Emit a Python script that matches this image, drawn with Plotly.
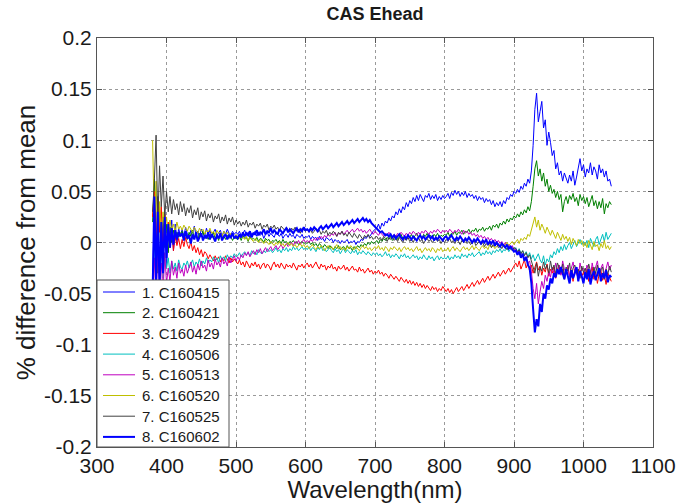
import plotly.graph_objects as go

# Wavelength sampling grid (nm), 380..1040 every 2.5 nm
wavelength = [380 + 2.5 * i for i in range(265)]

# Series values, in units of 0.001 (% difference from mean)
# segments: 380-420 | 422.5-500 | 502.5-600 | 602.5-700 | 702.5-800 | 802.5-900 | 902.5-1000 | 1002.5-1040
c160415 = ([-40, 35, -20, 45, -35, 20, -10, 30, -25, 15, -5, 22, -8, 18, 0, 14, 6] +
           [13, 6, 15, 8, 4, 12, 9, 16, 7, 11, 5, 13, 10, 6, 14, 8, 12, 5, 10, 13, 7, 9, 12, 6, 11, 8, 13, 9, 7, 11, 8, 10] +
           [8, 11, 6, 9, 12, 7, 10, 5, 9, 8, 11, 6, 10, 7, 9, 4, 8, 10, 6, 9, 7, 5, 10, 8, 6, 9, 4, 7, 8, 5, 9, 6, 7, 4, 8, 6, 5, 8, 4, 6] +
           [5, 7, 3, 6, 4, 5, 2, 6, 3, 4, 1, 5, 3, 2, 4, 0, 3, 1, 2, -1, 2, 0, 1, 3, -1, 1, 0, 2, -2, 1, 0, 3, 2, 5, 4, 7, 6, 9, 11, 13] +
           [14, 18, 13, 19, 16, 21, 19, 24, 21, 26, 24, 30, 27, 33, 29, 35, 32, 39, 35, 41, 38, 44, 40, 46, 41, 47, 43, 40, 46, 44, 48, 42, 46, 43, 47, 41, 45, 42, 46, 43] +
           [45, 48, 43, 49, 46, 51, 47, 50, 45, 49, 46, 50, 44, 48, 45, 47, 43, 46, 41, 45, 42, 44, 39, 43, 40, 42, 37, 41, 35, 39, 36, 40, 35, 41, 38, 44, 42, 47, 45, 50] +
           [48, 52, 49, 55, 52, 58, 55, 62, 58, 70, 95, 130, 146, 118, 128, 138, 112, 120, 95, 108, 98, 85, 90, 72, 78, 66, 70, 60, 68, 62, 58, 66, 60, 70, 56, 64, 72, 82, 70, 76] +
           [64, 72, 68, 78, 66, 74, 70, 62, 76, 68, 72, 64, 70, 60, 62, 55])
c160421 = ([20, 62, 10, -30, 35, -15, 25, -5, 18, -10, 15, 0, 12, 3, 10, 5, 9] +
           [11, 5, 9, 3, 10, 6, 12, 4, 8, 2, 9, 6, 11, 4, 7, 3, 8, 5, 10, 4, 7, 2, 8, 5, 6, 3, 7, 4, 6, 2, 5, 4] +
           [3, 6, 2, 7, 4, 5, 1, 6, 3, 4, 2, 5, 1, 4, 3, 0, 4, 2, 3, -1, 2, 1, 3, 0, 2, -1, 3, 0, 1, -2, 1, 0, 2, -1, 1, -2, 0, 1, -1, 0] +
           [-1, 1, -2, 0, -3, -1, -4, -1, -3, -5, -2, -4, -6, -3, -5, -7, -4, -6, -3, -7, -5, -4, -7, -3, -6, -5, -8, -4, -6, -3, -5, -2, -4, -1, -3, 0, -2, 1, -1, 0] +
           [2, -1, 3, 1, 4, 2, 5, 3, 6, 2, 4, 7, 3, 5, 8, 4, 6, 3, 7, 5, 8, 4, 6, 9, 5, 7, 4, 8, 6, 9, 5, 7, 4, 8, 6, 9, 5, 7, 6, 8] +
           [7, 10, 6, 9, 8, 11, 7, 10, 9, 12, 8, 11, 10, 13, 9, 12, 11, 14, 10, 13, 12, 15, 11, 14, 13, 16, 12, 17, 15, 18, 14, 19, 17, 21, 18, 23, 20, 24, 22, 26] +
           [24, 28, 25, 30, 27, 32, 29, 35, 31, 40, 55, 72, 80, 65, 72, 60, 68, 55, 62, 50, 56, 48, 52, 44, 50, 42, 47, 30, 40, 45, 38, 46, 42, 48, 40, 44, 36, 47, 41, 45] +
           [38, 44, 35, 42, 46, 36, 41, 33, 40, 34, 43, 28, 38, 34, 40, 37])
c160429 = ([25, 50, -5, 42, 10, 35, -15, 28, -10, 20, -5, 12, -8, 6, -3, 4, -6] +
           [3, -4, 5, -2, -6, 1, -8, -3, -10, -5, -12, -7, -14, -9, -11, -16, -12, -15, -18, -13, -17, -14, -19, -15, -18, -13, -17, -20, -15, -19, -16, -18] +
           [-21, -17, -22, -19, -24, -18, -21, -25, -20, -23, -19, -24, -21, -26, -22, -20, -25, -21, -23, -27, -22, -19, -24, -21, -25, -20, -23, -26, -21, -24, -22, -25, -20, -23, -27, -22, -24, -21, -25, -22] +
           [-20, -24, -21, -25, -22, -19, -23, -26, -21, -24, -22, -27, -23, -25, -21, -26, -24, -28, -23, -26, -25, -22, -27, -24, -28, -25, -23, -27, -26, -29, -24, -28, -26, -30, -27, -25, -29, -27, -31, -28] +
           [-30, -27, -31, -29, -33, -30, -32, -35, -31, -34, -36, -33, -35, -38, -34, -37, -39, -36, -40, -37, -41, -38, -42, -39, -43, -40, -44, -41, -45, -42, -44, -47, -43, -46, -44, -48, -45, -47, -43, -46] +
           [-48, -45, -49, -46, -50, -47, -44, -48, -46, -43, -47, -44, -41, -45, -42, -39, -43, -40, -37, -41, -38, -35, -39, -36, -33, -37, -34, -31, -35, -32, -29, -33, -30, -27, -31, -28, -25, -29, -26, -23] +
           [-20, -24, -18, -26, -21, -17, -25, -20, -28, -22, -30, -24, -19, -27, -23, -32, -25, -29, -21, -33, -26, -30, -24, -35, -27, -22, -31, -26, -36, -28, -24, -33, -29, -38, -26, -31, -35, -27, -33, -29] +
           [-34, -26, -38, -30, -24, -36, -29, -40, -31, -27, -37, -32, -41, -30, -35, -38])
c160506 = ([-50, 5, -40, 10, -30, -5, -35, -10, -25, -15, -30, -18, -26, -20, -28, -17, -24] +
           [-26, -20, -23, -18, -25, -21, -17, -24, -19, -22, -16, -23, -18, -21, -15, -20, -17, -19, -14, -18, -15, -20, -13, -17, -14, -18, -12, -16, -13, -15, -11, -14] +
           [-13, -10, -14, -11, -9, -12, -10, -13, -8, -11, -9, -12, -7, -10, -11, -8, -10, -6, -9, -7, -10, -8, -5, -9, -7, -10, -6, -8, -5, -9, -6, -8, -4, -7, -5, -8, -6, -4, -7, -5] +
           [-7, -4, -8, -5, -6, -9, -5, -7, -4, -8, -6, -9, -7, -5, -8, -10, -6, -9, -7, -11, -8, -6, -10, -7, -9, -11, -8, -10, -7, -12, -9, -11, -8, -10, -12, -9, -11, -13, -10, -12] +
           [-10, -13, -11, -14, -12, -9, -13, -11, -15, -12, -14, -11, -13, -16, -12, -14, -11, -15, -13, -16, -14, -12, -15, -13, -17, -14, -16, -12, -15, -17, -13, -16, -14, -18, -15, -13, -17, -14, -16, -15] +
           [-16, -13, -17, -14, -16, -12, -15, -13, -16, -11, -14, -12, -15, -11, -13, -10, -14, -12, -11, -9, -13, -10, -12, -8, -11, -9, -12, -8, -10, -7, -9, -6, -10, -7, -8, -5, -9, -6, -4, -7] +
           [-5, -9, -6, -11, -8, -12, -9, -14, -10, -16, -12, -18, -14, -11, -17, -20, -13, -22, -16, -19, -12, -15, -9, -12, -6, -10, -4, -8, -2, -7, -3, 0, -6, -1, 2, -4, 0, 3, -2, 1] +
           [-3, 2, -5, 4, 0, -4, 3, 6, -2, 4, 8, 1, 10, 3, 6, 9])
c160513 = ([-55, -15, -60, -5, -45, -20, -50, -10, -40, -25, -38, -18, -32, -24, -35, -20, -30] +
           [-26, -33, -22, -30, -25, -19, -29, -23, -31, -21, -27, -18, -25, -22, -28, -17, -24, -20, -26, -16, -22, -19, -24, -15, -21, -18, -23, -14, -20, -17, -13, -18] +
           [-14, -17, -12, -15, -10, -13, -9, -14, -11, -8, -12, -7, -10, -6, -11, -8, -5, -9, -6, -4, -8, -5, -3, -7, -4, -2, -6, -3, -1, -4, -2, 0, -3, 1, -1, 2, -2, 1, 3, 0] +
           [2, 0, 3, 1, 4, 2, 5, 3, 6, 4, 7, 5, 8, 6, 9, 7, 10, 6, 9, 8, 11, 8, 10, 12, 9, 11, 13, 10, 12, 14, 11, 13, 10, 12, 9, 11, 13, 10, 8, 11] +
           [9, 7, 10, 8, 6, 9, 7, 10, 8, 5, 8, 6, 9, 7, 10, 8, 6, 9, 7, 10, 8, 11, 9, 7, 10, 8, 11, 9, 12, 10, 8, 11, 9, 12, 10, 13, 11, 9, 12, 10] +
           [12, 10, 13, 11, 9, 12, 10, 13, 11, 8, 12, 9, 11, 8, 10, 7, 9, 6, 8, 5, 7, 4, 6, 3, 5, 2, 4, 1, 3, 0, 2, -1, 1, -3, 0, -4, -2, -5, -3, -7] +
           [-6, -10, -8, -13, -11, -16, -14, -20, -18, -28, -45, -55, -40, -60, -48, -38, -45, -32, -38, -28, -34, -24, -30, -20, -27, -22, -32, -18, -26, -30, -22, -34, -25, -19, -29, -24, -33, -20, -28, -25] +
           [-31, -22, -27, -34, -20, -29, -24, -18, -30, -25, -21, -32, -24, -19, -27, -22])
c160520 = ([100, 20, 60, -10, 40, 5, 30, 10, 25, 8, 22, 12, 18, 10, 20, 13, 16] +
           [12, 17, 14, 11, 16, 13, 10, 15, 12, 9, 14, 11, 13, 8, 12, 10, 14, 9, 11, 7, 12, 9, 10, 6, 11, 8, 10, 6, 9, 7, 5, 8] +
           [6, 4, 7, 5, 3, 6, 2, 5, 3, 1, 4, 2, 0, 3, 1, -1, 2, 0, -2, 1, -1, -3, 0, -2, 1, -3, -1, -4, -2, 0, -3, -1, -4, -2, -5, -3, -1, -4, -2, -5] +
           [-3, -6, -4, -2, -5, -7, -4, -6, -3, -5, -8, -5, -3, -6, -4, -7, -5, -2, -6, -4, -7, -5, -8, -4, -6, -3, -5, -7, -4, -6, -8, -5, -3, -6, -4, -7, -5, -8, -6, -4] +
           [-6, -3, -7, -5, -8, -4, -6, -9, -5, -7, -4, -6, -8, -5, -9, -6, -4, -7, -5, -8, -6, -9, -7, -4, -8, -6, -10, -7, -5, -8, -6, -9, -5, -7, -10, -6, -8, -5, -9, -7] +
           [-8, -5, -9, -6, -4, -8, -5, -7, -9, -6, -4, -7, -5, -8, -6, -3, -7, -4, -6, -8, -5, -3, -6, -4, -7, -2, -5, -3, -6, -4, -2, -5, -1, -4, -2, 0, -3, -1, 1, -2] +
           [0, 3, -1, 4, 2, 5, 3, 8, 6, 12, 20, 25, 15, 22, 12, 18, 14, 9, 15, 11, 7, 12, 8, 4, 10, 6, 2, 8, 3, 6, 1, 5, -2, 4, 0, -3, 3, -1, 2, -4] +
           [0, -5, 2, -3, -7, 1, -4, -2, -8, -1, -5, 2, -6, -3, -7, -4])
c160525 = ([30, 60, 105, 20, 75, 35, 65, 25, 50, 30, 45, 28, 42, 32, 38, 27, 40] +
           [30, 38, 26, 34, 29, 36, 24, 32, 27, 34, 22, 30, 25, 31, 21, 28, 24, 29, 20, 26, 23, 28, 19, 25, 21, 27, 18, 24, 20, 25, 17, 22] +
           [18, 21, 16, 20, 17, 22, 15, 19, 17, 20, 14, 18, 16, 19, 13, 17, 15, 18, 12, 16, 14, 17, 13, 15, 11, 16, 14, 12, 15, 13, 10, 14, 12, 15, 11, 13, 9, 14, 12, 11] +
           [13, 10, 12, 9, 11, 14, 10, 12, 8, 11, 9, 12, 7, 10, 8, 11, 9, 6, 10, 8, 11, 7, 9, 6, 10, 8, 5, 9, 7, 4, 8, 6, 3, 7, 5, 8, 4, 6, 3, 5] +
           [6, 3, 5, 2, 6, 4, 1, 5, 3, 6, 2, 4, 1, 5, 3, 0, 4, 2, 5, 1, 3, 0, 4, 2, 5, 1, 3, -1, 2, 4, 1, 3, 0, 2, 4, 1, 3, -1, 2, 0] +
           [3, 1, 4, 0, 2, -1, 3, 1, -2, 2, 0, 3, -1, 1, -2, 0, 2, -3, -1, 1, -2, 0, -4, -1, -3, 0, -5, -2, -4, -1, -5, -3, -6, -2, -5, -7, -4, -6, -8, -5] +
           [-6, -9, -7, -11, -8, -13, -10, -15, -12, -18, -25, -30, -20, -33, -24, -28, -19, -26, -22, -30, -18, -27, -22, -31, -20, -25, -29, -21, -33, -24, -28, -20, -34, -25, -22, -30, -26, -35, -23, -29] +
           [-25, -32, -21, -28, -35, -24, -30, -22, -33, -27, -24, -36, -26, -31, -23, -29])
c160602 = ([-50, 45, -40, 30, -45, 20, -30, 25, -15, 18, -5, 14, -2, 12, 3, 10, 6] +
           [9, 2, 11, 4, 7, -1, 8, 3, 10, 1, 6, 9, 2, 7, 4, 10, 3, 8, 5, 1, 7, 4, 9, 2, 6, 8, 3, 7, 5, 9, 4, 6] +
           [4, 8, 5, 10, 6, 9, 7, 11, 5, 9, 8, 12, 7, 10, 9, 13, 8, 11, 10, 14, 9, 12, 10, 8, 13, 11, 9, 12, 14, 10, 13, 11, 9, 12, 14, 10, 13, 11, 15, 12] +
           [13, 11, 14, 12, 15, 13, 11, 14, 16, 13, 15, 17, 14, 16, 18, 15, 17, 19, 16, 18, 20, 17, 19, 21, 18, 20, 22, 19, 21, 23, 20, 22, 24, 21, 23, 20, 22, 19, 17, 15] +
           [14, 12, 10, 11, 9, 7, 8, 6, 8, 5, 7, 4, 6, 8, 5, 3, 6, 4, 7, 5, 3, 6, 4, 2, 5, 7, 4, 6, 3, 5, 7, 4, 6, 2, 5, 3, 6, 4, 2, 5] +
           [6, 3, 5, 7, 4, 2, 5, 3, 6, 4, 1, 4, 2, 5, 3, 0, 3, 1, 4, 2, -1, 2, 0, 3, -2, 1, -1, 2, -3, 0, -2, -4, -1, -3, -5, -2, -6, -4, -7, -9] +
           [-8, -12, -9, -15, -11, -18, -14, -22, -25, -40, -65, -88, -75, -82, -60, -68, -50, -55, -42, -46, -35, -40, -30, -34, -26, -31, -24, -29, -36, -26, -32, -40, -27, -35, -30, -24, -38, -28, -33, -40] +
           [-29, -36, -26, -41, -33, -28, -37, -31, -25, -38, -30, -35, -27, -39, -32, -34])

series_names = ["1. C160415", "2. C160421", "3. C160429", "4. C160506",
                "5. C160513", "6. C160520", "7. C160525", "8. C160602"]
series_values = [c160415, c160421, c160429, c160506,
                 c160513, c160520, c160525, c160602]
series_colors = ["#0000ff", "#008000", "#ff0000", "#00bfbf",
                 "#bf00bf", "#bfbf00", "#404040", "#0000ff"]
series_widths = [1, 1, 1, 1, 1, 1, 1, 2]

for vals in series_values:
    assert len(vals) == len(wavelength), len(vals)

x_ticks = [300, 400, 500, 600, 700, 800, 900, 1000, 1100]
y_ticks = [-0.2, -0.15, -0.1, -0.05, 0, 0.05, 0.1, 0.15, 0.2]
y_tick_text = ["-0.2", "-0.15", "-0.1", "-0.05", "0", "0.05", "0.1", "0.15", "0.2"]

FONT = "Arial, Liberation Sans, sans-serif"
TXT = "#1a1a1a"

fig = go.Figure()
for name, vals, col, w in zip(series_names, series_values, series_colors, series_widths):
    fig.add_trace(go.Scatter(
        x=wavelength, y=[v / 1000 for v in vals], name=name, mode="lines",
        line=dict(color=col, width=w), showlegend=False))

# Legend drawn as a boxed key in the lower-left corner of the axes (pixel layout -> paper coords)
PL, PR, PT, PB = 97, 653, 38, 447
def px_x(p):
    return (p - PL) / (PR - PL)
def px_y(p):
    return (PB - p) / (PB - PT)

shapes = [dict(type="rect", xref="paper", yref="paper",
               x0=px_x(PL), x1=px_x(229), y0=px_y(PB), y1=px_y(280),
               fillcolor="white", line=dict(color="#555555", width=1), layer="above")]
annotations = []
for k, (name, col, w) in enumerate(zip(series_names, series_colors, series_widths)):
    yc = 292 + 20.7 * k
    shapes.append(dict(type="line", xref="paper", yref="paper",
                       x0=px_x(103), x1=px_x(135), y0=px_y(yc), y1=px_y(yc),
                       line=dict(color=col, width=w), layer="above"))
    annotations.append(dict(text=name, xref="paper", yref="paper",
                            x=px_x(140), y=px_y(yc), xanchor="left", yanchor="middle",
                            showarrow=False, font=dict(family=FONT, size=15, color=TXT)))

axis_common = dict(
    showline=True, linecolor="#555555", linewidth=1, mirror="ticks",
    ticks="inside", ticklen=5, tickcolor="#555555",
    showgrid=True, gridcolor="#9a9a9a", griddash="dot", gridwidth=1,
    zeroline=False, automargin=False,
    tickfont=dict(family=FONT, size=21, color=TXT),
)

fig.update_layout(
    width=678, height=503,
    margin=dict(l=PL, r=678 - PR, t=PT, b=503 - PB),
    paper_bgcolor="white", plot_bgcolor="white",
    title=dict(text="<b>CAS Ehead</b>", x=(PL + PR) / 2 / 678, xanchor="center",
               y=1 - 14 / 503, yanchor="middle",
               font=dict(family=FONT, size=18, color=TXT)),
    xaxis=dict(range=[300, 1100], tickvals=x_ticks,
               title=dict(text="Wavelength(nm)", standoff=0,
                          font=dict(family=FONT, size=24, color=TXT)),
               **axis_common),
    yaxis=dict(range=[-0.2, 0.2], tickvals=y_ticks, ticktext=y_tick_text,
               title=dict(text="% difference from mean", standoff=0,
                          font=dict(family=FONT, size=26, color=TXT)),
               **axis_common),
    shapes=shapes, annotations=annotations,
    showlegend=False,
)

fig.write_html("out.html")
